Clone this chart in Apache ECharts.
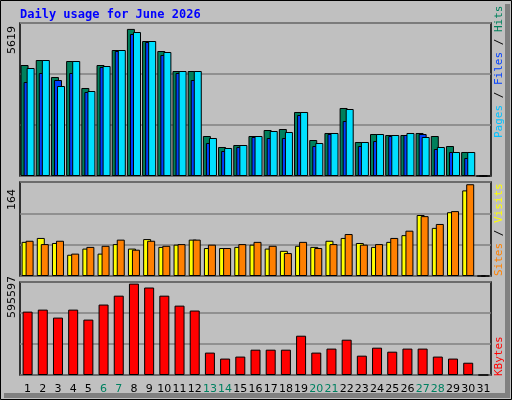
<!DOCTYPE html>
<html><head><meta charset="utf-8">
<script src="https://cdn.jsdelivr.net/npm/echarts@6/dist/echarts.min.js"></script>
<style>html,body{margin:0;padding:0;background:#fff}#c{width:512px;height:400px}</style>
</head><body><div id="c"></div>
<script>
const days = Array.from({length:31},(_,i)=>String(i+1));
const weekendDays = ['6','7','13','14','20','21','27','28'];
const hits  = [4240,4431,3782,4393,3362,4240,4813,5619,5157,4775,4011,4011,1528,1108,1184,1528,1757,1795,2445,1375,1643,2598,1299,1604,1566,1566,1643,1528,1146,917,0];
const files = [4126,4431,3438,4393,3247,4202,4813,5501,5157,4737,4011,4011,1452,1070,1184,1528,1719,1681,2445,1261,1643,2559,1299,1604,1566,1643,1490,1108,917,917,0];
const pages = [3591,3935,3667,3935,3209,4164,4775,5424,5119,4622,3935,3667,1261,955,1108,1490,1452,1452,2330,1146,1604,2101,1146,1337,1528,1566,1604,1031,917,688,0];
const visits= [61,68,59,38,49,40,57,49,66,52,56,65,50,50,52,56,49,45,54,52,63,68,59,52,61,73,109,86,114,153,0];
const sites = [63,57,63,40,52,54,65,47,63,54,57,65,56,50,57,61,54,41,61,50,57,75,56,57,68,81,107,93,116,164,0];
const kbytes= [413000,426000,374000,426000,361000,459000,517000,595597,570000,517000,452000,420000,146000,107000,120000,165000,165000,165000,256000,146000,172000,230000,126000,178000,152000,172000,172000,120000,107000,80000,0];
const maxLabels = ['5619','164','595597'];

const chart = echarts.init(document.getElementById('c'));
const grids = [
  {left:20,right:21,top:23,bottom:224},
  {left:20,right:21,top:182,bottom:124},
  {left:20,right:21,top:282,bottom:25}
];
const bs = {borderColor:'#000',borderWidth:1};
function xa(i){return {type:'category',gridIndex:i,data:days,axisTick:{show:false},axisLine:{show:false},
  axisLabel:{show:i===2,interval:0,margin:9,fontFamily:'DejaVu Sans',fontSize:11,
    color:(v)=>weekendDays.includes(v)?'#008060':'#000'}};}
function ya(i,max,intv){return {type:'value',gridIndex:i,min:0,max:max,interval:intv,axisLabel:{show:false},
  axisLine:{show:false},axisTick:{show:false},splitLine:{lineStyle:{color:'#808080',width:1.5}}};}
chart.setOption({
  backgroundColor:'#C0C0C0',
  animation:false,
  grid:grids.map(g=>Object.assign({show:true,borderColor:'#000',borderWidth:1.5,backgroundColor:'transparent'},g)),
  xAxis:[xa(0),xa(1),xa(2)],
  yAxis:[ya(0,5845,1948),ya(1,168,56),ya(2,606000,202000)],
  series:[
    {type:'bar',xAxisIndex:0,yAxisIndex:0,data:hits,barWidth:8,barGap:'-62%',itemStyle:Object.assign({color:'#00805C'},bs)},
    {type:'bar',xAxisIndex:0,yAxisIndex:0,data:pages,barWidth:8,barGap:'-62%',itemStyle:Object.assign({color:'#0040FF'},bs)},
    {type:'bar',xAxisIndex:0,yAxisIndex:0,data:files,barWidth:8,barGap:'-62%',itemStyle:Object.assign({color:'#00E0FF'},bs)},
    {type:'bar',xAxisIndex:1,yAxisIndex:1,data:visits,barWidth:8,barGap:'-50%',itemStyle:Object.assign({color:'#FFFF00'},bs)},
    {type:'bar',xAxisIndex:1,yAxisIndex:1,data:sites,barWidth:8,barGap:'-50%',itemStyle:Object.assign({color:'#FF8000'},bs)},
    {type:'bar',xAxisIndex:2,yAxisIndex:2,data:kbytes,barWidth:10,itemStyle:Object.assign({color:'#FF0000'},bs)}
  ],
  graphic:[
    {type:'rect',shape:{x:0.5,y:0.5,width:511,height:399},style:{fill:'none',stroke:'#000',lineWidth:1},silent:true},
    {type:'rect',shape:{x:505,y:4,width:5,height:394},style:{fill:'#808080'},silent:true},
    {type:'rect',shape:{x:4,y:393,width:506,height:5},style:{fill:'#808080'},silent:true},
    {type:'text',left:20,top:9,style:{text:'Daily usage for June 2026',fill:'#0000FF',font:'bold 12px "DejaVu Sans Mono"'}},
    {type:'text',x:7,y:54,rotation:Math.PI/2,style:{text:maxLabels[0],fill:'#000',font:'11px "DejaVu Sans"'}},
    {type:'text',x:7,y:210,rotation:Math.PI/2,style:{text:maxLabels[1],fill:'#000',font:'11px "DejaVu Sans"'}},
    {type:'text',x:7,y:318,rotation:Math.PI/2,style:{text:maxLabels[2],fill:'#000',font:'11px "DejaVu Sans"'}},
    {type:'text',x:494,y:138,rotation:Math.PI/2,style:{text:'{a|Pages}{s| / }{b|Files}{s| / }{c|Hits}',font:'11px "DejaVu Sans Mono"',
      rich:{a:{fill:'#00C0FF',font:'11px "DejaVu Sans Mono"'},b:{fill:'#0040FF',font:'11px "DejaVu Sans Mono"'},c:{fill:'#00805C',font:'11px "DejaVu Sans Mono"'},s:{fill:'#000',font:'11px "DejaVu Sans Mono"'}}}},
    {type:'text',x:494,y:276,rotation:Math.PI/2,style:{text:'{a|Sites}{s| / }{b|Visits}',font:'11px "DejaVu Sans Mono"',
      rich:{a:{fill:'#FF8000',font:'11px "DejaVu Sans Mono"'},b:{fill:'#FFFF00',font:'11px "DejaVu Sans Mono"'},s:{fill:'#000',font:'11px "DejaVu Sans Mono"'}}}},
    {type:'text',x:494,y:376,rotation:Math.PI/2,style:{text:'KBytes',fill:'#FF0000',font:'11px "DejaVu Sans Mono"'}}
  ]
});
</script></body></html>
